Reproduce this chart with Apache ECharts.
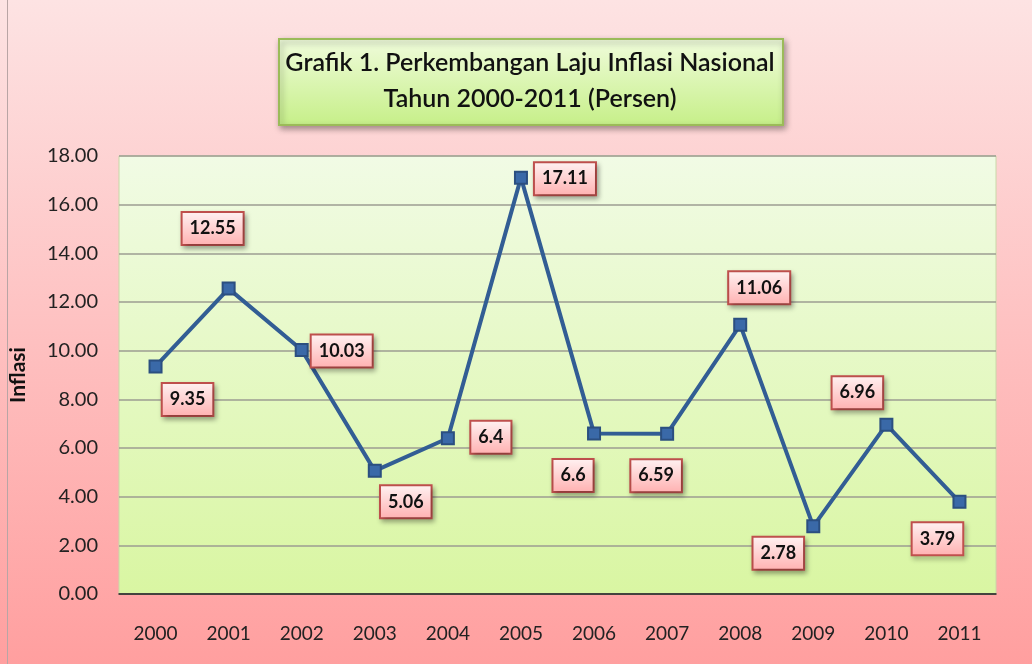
<!DOCTYPE html>
<html>
<head>
<meta charset="utf-8">
<script src="https://cdn.jsdelivr.net/npm/echarts@6/dist/echarts.min.js"></script>
<style>
  html, body { margin: 0; padding: 0; }
  #chart { width: 1032px; height: 664px; }
</style>
</head>
<body>
<div id="chart"></div>
<script>
// data
const years = ['2000', '2001', '2002', '2003', '2004', '2005', '2006', '2007', '2008', '2009', '2010', '2011']
const inflasi = [9.35, 12.55, 10.03, 5.06, 6.4, 17.11, 6.6, 6.59, 11.06, 2.78, 6.96, 3.79]
const yTicks = { min: 0, max: 18, interval: 2 }

// where each value box sits relative to its point (styling only)
const labelShift = [[32, 33], [-16, -60], [40, 1], [31, 31], [43, -1], [44, 1],
  [-21, 42], [-11, 42], [19, -37], [-35, 27], [-29, -32], [-22, 37]]

const font = 'Lato, "Open Sans", sans-serif'
const chart = echarts.init(document.getElementById('chart'))

chart.setOption({
  backgroundColor: new echarts.graphic.LinearGradient(0, 0, 0, 1, [
    { offset: 0, color: '#fde3e3' },
    { offset: 1, color: '#ff9f9f' },
  ]),
  grid: {
    left: 118, right: 36, top: 156, bottom: 70,
    show: true,
    borderColor: '#c9d8a8',
    borderWidth: 1,
    backgroundColor: new echarts.graphic.LinearGradient(0, 0, 0, 1, [
      { offset: 0, color: '#f1fbe5' },
      { offset: 1, color: '#d9f6a2' },
    ]),
  },
  graphic: [
    // frame line on the left
    { type: 'line', shape: { x1: 7.5, y1: 0, x2: 7.5, y2: 664 }, style: { stroke: '#b9a5a5', lineWidth: 1 }, z: 1 },
    // title box
    {
      type: 'rect', left: 278, top: 38, z: 10,
      shape: { width: 504, height: 86 },
      style: {
        fill: new echarts.graphic.LinearGradient(0, 0, 0, 1, [
          { offset: 0, color: '#f0fcdc' },
          { offset: 1, color: '#c6ef88' },
        ]),
        stroke: '#9bbb59', lineWidth: 2,
        shadowBlur: 6, shadowOffsetX: 2, shadowOffsetY: 3, shadowColor: 'rgba(0,0,0,0.35)',
      },
    },
    {
      type: 'text', x: 530, y: 81, z: 11,
      style: {
        text: 'Grafik 1. Perkembangan Laju Inflasi Nasional\nTahun 2000-2011 (Persen)',
        font: '600 25px ' + font,
        fill: '#111', align: 'center', verticalAlign: 'middle', lineHeight: 36,
      },
    },
  ],
  xAxis: {
    type: 'category',
    data: years,
    boundaryGap: true,
    axisLine: { lineStyle: { color: '#222', width: 1.5 } },
    axisTick: { length: 7, lineStyle: { color: '#222' } },
    axisLabel: { margin: 30, fontFamily: font, fontSize: 19, color: '#222' },
  },
  yAxis: {
    type: 'value',
    min: yTicks.min, max: yTicks.max, interval: yTicks.interval,
    name: 'Inflasi',
    nameLocation: 'middle',
    nameGap: 90,
    nameRotate: 90,
    nameTextStyle: { fontFamily: font, fontSize: 21, fontWeight: 'bold', color: '#111' },
    axisLine: { show: false },
    axisTick: { show: false },
    axisLabel: {
      margin: 21, fontFamily: font, fontSize: 20, color: '#222',
      formatter: v => v.toFixed(2),
    },
    splitLine: { lineStyle: { color: '#9c9c92', width: 1.5 } },
  },
  series: [
    {
      type: 'line',
      data: inflasi.map((v, i) => ({
        value: v,
        label: { offset: labelShift[i] },
      })),
      lineStyle: { color: '#325d94', width: 4 },
      symbol: 'rect',
      symbolSize: 12,
      itemStyle: { color: '#3a69a8', borderColor: '#2b4f80', borderWidth: 2 },
      label: {
        show: true,
        position: 'inside',
        formatter: p => String(p.value),
        fontFamily: font,
        fontSize: 18,
        fontWeight: 'bold',
        color: '#111',
        padding: [7, 7, 6, 7],
        backgroundColor: new echarts.graphic.LinearGradient(0, 0, 0, 1, [
          { offset: 0, color: '#fff3f3' },
          { offset: 1, color: '#ffb0b0' },
        ]),
        borderColor: '#c0504d',
        borderWidth: 2,
        shadowBlur: 5,
        shadowOffsetX: 2,
        shadowOffsetY: 3,
        shadowColor: 'rgba(0,0,0,0.3)',
      },
    },
  ],
})
</script>
</body>
</html>
